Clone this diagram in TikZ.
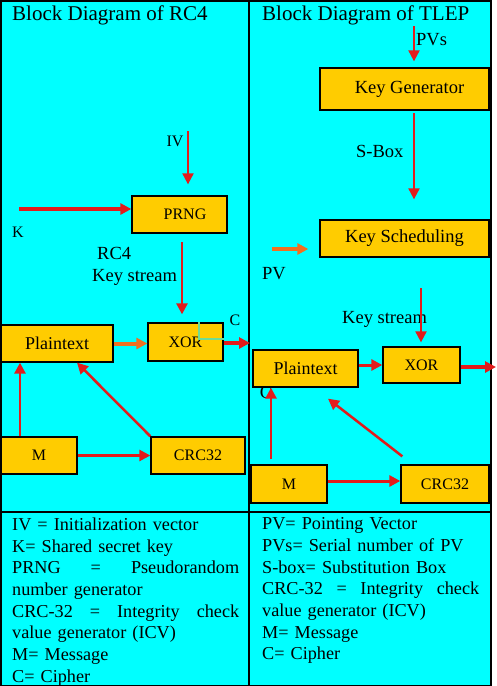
\documentclass[tikz,border=0pt]{standalone}
\usepackage{fontspec}
\setmainfont{Liberation Serif}
\usetikzlibrary{positioning, arrows.meta, calc}
\definecolor{bgcolor}{HTML}{00FFFF}
\definecolor{bcolor}{HTML}{FFCC00}
\definecolor{acolor}{HTML}{E21B1B}
\definecolor{ocolor}{HTML}{F07020}
\definecolor{gcolor}{HTML}{6EDC96}
\setlength{\parindent}{0pt}

\begin{document}
\begin{tikzpicture}[x=1pt, y=-1pt,
    block/.style={rectangle, draw=black, fill=bcolor, line width=1.3pt, inner sep=0pt, font=\fontsize{16}{18}\selectfont},
    arr/.style={-{Triangle[length=11pt, width=11pt]}, acolor, line width=2.5pt},
    lbl/.style={font=\fontsize{18.5}{21}\selectfont, inner sep=0pt},
    ttl/.style={font=\fontsize{21}{24}\selectfont, inner sep=0pt, anchor=base west},
    keytext/.style={font=\fontsize{18.2}{21.7}\selectfont, inner sep=0pt, anchor=north west},
  ]
    \useasboundingbox (0,0) rectangle (496,686);
    \fill[bgcolor] (0,0) rectangle (492,686);
    \draw[line width=1.5pt] (0.75,0.75) rectangle (491,685.25);
    \draw[line width=1.5pt] (249,0) -- (249,686);
    \draw[line width=1.5pt] (0,512) -- (492,512);

    % RC4
    \node[ttl] (titleL) at (12,20) {Block Diagram of RC4};
    \node[block, minimum width=95pt, minimum height=37pt] (prngL) at (179.5,214.5) {\hspace{11pt}PRNG};
    \node[block, minimum width=75pt, minimum height=38pt] (xorL) at (185.5,342) {XOR};
    \node[block, minimum width=112pt, minimum height=37pt, font=\fontsize{18}{20}\selectfont] (ptL) at (57,343.5) {Plaintext};
    \node[block, minimum width=76pt, minimum height=37pt] (mL) at (39,455.5) {M};
    \node[block, minimum width=94pt, minimum height=37pt] (crcL) at (198,455.5) {CRC32};

    \node[lbl, font=\fontsize{16}{18}\selectfont] (ivL) at (175,141) {IV};
    \node[lbl, font=\fontsize{16}{18}\selectfont] (kL) at (18,232) {K};
    \node[lbl, anchor=base west] (rc4L) at (97,259) {RC4};
    \node[lbl, anchor=base west] (ksL) at (92,281) {Key stream};
    \node[lbl, font=\fontsize{16}{18}\selectfont] (cL) at (235,320) {C};

    \coordinate (kin) at (19,209);
    \coordinate (ivin) at (188,131);
    \coordinate (ksin) at (182,242);
    \coordinate (coutL) at (250,343);

    \draw[arr, line width=3.5pt] (kin) -- (kin -| prngL.west);
    \draw[arr, line width=2pt, shorten >=11pt] (ivin) -- (ivin |- prngL.north);
    \draw[arr, shorten >=8pt] (ksin) -- (ksin |- xorL.north);
    \draw[arr, ocolor, line width=4pt] (ptL.east) -- (ptL.east -| xorL.west);
    \draw[arr, line width=4.5pt] (xorL.east |- coutL) -- (coutL);
    \draw[gcolor, line width=1.2pt] ([xshift=13.5pt]xorL.north) |- ([yshift=3pt]xorL.east);
    \draw[arr] ([xshift=-19pt]mL.north) -- ([xshift=-37pt]ptL.south);
    \draw[arr] (mL.east) -- (crcL.west);
    \draw[arr] (crcL.north west) -- ([xshift=20pt]ptL.south);

    % TLEP
    \node[ttl] (titleR) at (262,20) {Block Diagram of TLEP};
    \node[block, minimum width=169pt, minimum height=42pt, font=\fontsize{18.5}{21}\selectfont] (kg) at (404.5,89) {\hspace{10pt}Key Generator};
    \node[block, minimum width=169pt, minimum height=37pt, font=\fontsize{18.5}{21}\selectfont] (ksch) at (404.5,238.5) {Key Scheduling};
    \node[block, minimum width=77pt, minimum height=36pt] (xorR) at (421.5,365) {XOR};
    \node[lbl] (cR) at (266,392) {C};
    \node[block, minimum width=105pt, minimum height=37pt, font=\fontsize{18}{20}\selectfont] (ptR) at (305.5,368.5) {Plaintext};
    \node[block, minimum width=76pt, minimum height=38pt] (mR) at (289,484) {M};
    \node[block, minimum width=88pt, minimum height=38pt] (crcR) at (445,484) {CRC32};

    \node[lbl, anchor=base west] (pvsL) at (416,45) {PVs};
    \node[lbl, anchor=base west] (sboxL) at (356,157) {S-Box};
    \node[lbl, anchor=base west] (pvL) at (262,279) {PV};
    \node[lbl, anchor=base west] (ks2L) at (342,323) {Key stream};

    \coordinate (pvsin) at (414,26);
    \coordinate (sbin) at (414,113);
    \coordinate (pvin) at (272,249);
    \coordinate (ks2in) at (421,288);
    \coordinate (coutR) at (496,367);

    \draw[arr, line width=2pt, shorten >=6pt] (pvsin) -- (pvsin |- kg.north);
    \draw[arr, line width=2pt, shorten >=20pt] (sbin) -- (sbin |- ksch.north);
    \draw[arr, ocolor, line width=4pt, shorten >=11pt] (pvin) -- (pvin -| ksch.west);
    \draw[arr, line width=2pt, shorten >=4pt] (ks2in) -- (ks2in |- xorR.north);
    \draw[arr, line width=3pt] (xorR.west -| ptR.east) -- (xorR.west);
    \draw[arr, line width=4.5pt] (xorR.east |- coutR) -- (coutR);
    \draw[arr] ([xshift=-18pt, yshift=5pt]mR.north) -- ([xshift=-34.5pt]ptR.south);
    \draw[arr, line width=3pt] ([yshift=3pt]mR.east) -- ([yshift=3pt]crcR.west);
    \draw[arr] ([shift={(2pt,8pt)}]crcR.north west) -- ([shift={(22.5pt,-11pt)}]ptR.south);

    % key to abbreviations
    \node[keytext, text width=227pt] (legL) at (12,517.5) {IV = Initialization vector\\
      K= Shared secret key\\
      \makebox[227pt]{PRNG\hfill=\hfill Pseudorandom}\\
      number generator\\
      \makebox[227pt]{CRC-32\hfill=\hfill Integrity\hfill check}\\
      value generator (ICV)\\
      M= Message\\
      C= Cipher};
    \node[keytext, text width=217pt] (legR) at (262,517.5) {PV= Pointing Vector\\
      PVs= Serial number of PV\\
      S-box= Substitution Box\\
      \makebox[217pt]{CRC-32\hfill=\hfill Integrity\hfill check}\\
      value generator (ICV)\\
      M= Message\\
      C= Cipher};
  \end{tikzpicture}
\end{document}
